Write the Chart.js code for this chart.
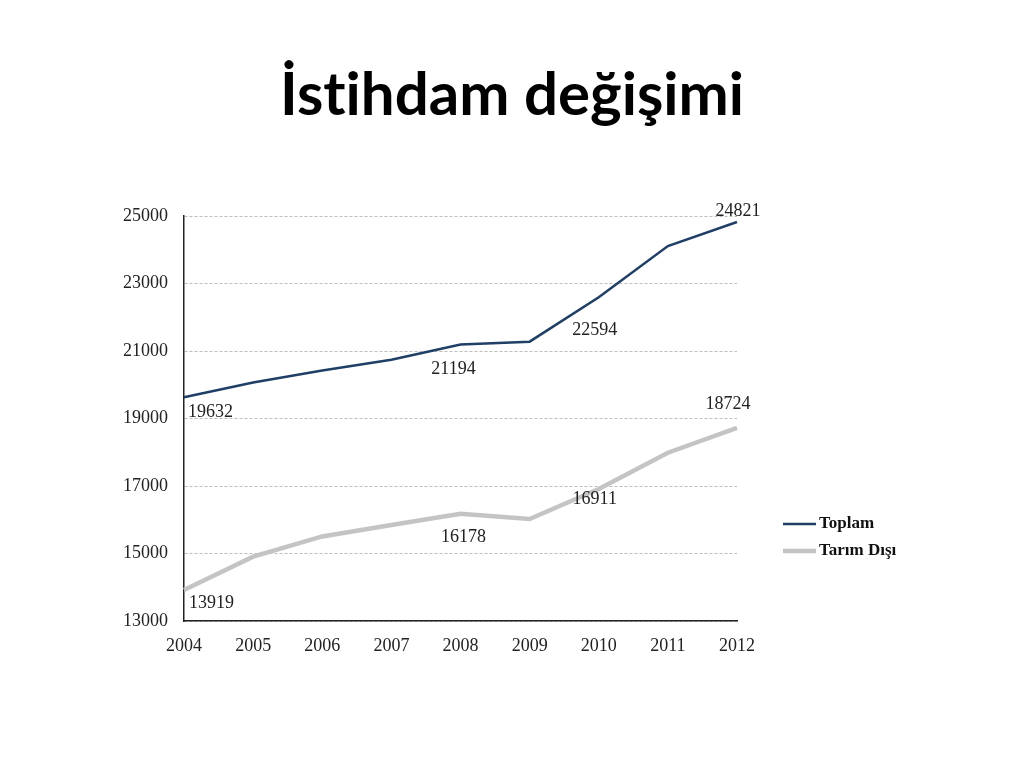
<!DOCTYPE html>
<html lang="tr">
<head>
<meta charset="utf-8">
<title>İstihdam değişimi</title>
<script src="https://cdn.jsdelivr.net/npm/chart.js@4"></script>
<style>
    html, body { margin: 0; padding: 0; background: #fff; }
    #page { position: relative; width: 1024px; height: 768px; overflow: hidden; }
    #title {
        position: absolute; left: 0; top: 62px; width: 1024px;
        text-align: center; font-family: Lato, "Open Sans", sans-serif;
        font-weight: bold; font-size: 60px; color: #000; line-height: 1;
        font-variant-ligatures: none;
    }
    #chartBox { position: absolute; left: 0; top: 0; width: 1024px; height: 768px; }
</style>
</head>
<body>
<div id="page">
    <div id="title">İstihdam değişimi</div>
    <div id="chartBox"><canvas id="chart"></canvas></div>
</div>
<script>
// --- Данные ---
const years = ['2004', '2005', '2006', '2007', '2008', '2009', '2010', '2011', '2012'];
const toplam = [19632, 20067, 20423, 20738, 21194, 21277, 22594, 24110, 24821];
const tarimDisi = [13919, 14906, 15505, 15847, 16178, 16023, 16911, 17985, 18724];
const seriesNames = ['Toplam', 'Tarım Dışı'];
const yTicks = [13000, 15000, 17000, 19000, 21000, 23000, 25000];
// indices of points that carry a value label
const labelledPoints = [0, 4, 6, 8];

const serif = '"Liberation Serif", "DejaVu Serif", serif';

// label placement per series and point: [dx, dy, align]
const labelOffsets = [
    { 0: [4, 15, 'left'], 4: [-7, 25, 'center'], 6: [-4, 33, 'center'], 8: [1, -11, 'center'] },
    { 0: [5, 13, 'left'], 4: [3, 24, 'center'], 6: [-4, 10, 'center'], 8: [-9, -24, 'center'] }
];

const valueLabels = {
    id: 'valueLabels',
    afterDatasetsDraw(chart) {
        const ctx = chart.ctx;
        ctx.save();
        ctx.font = '18px ' + serif;
        ctx.fillStyle = '#222';
        ctx.textBaseline = 'middle';
        chart.data.datasets.forEach((ds, di) => {
            const meta = chart.getDatasetMeta(di);
            labelledPoints.forEach(i => {
                const pt = meta.data[i];
                const [dx, dy, align] = labelOffsets[di][i];
                ctx.textAlign = align;
                ctx.fillText(String(ds.data[i]), pt.x + dx, pt.y + dy);
            });
        });
        ctx.restore();
    }
};

const sideLegend = {
    id: 'sideLegend',
    afterDraw(chart) {
        const ctx = chart.ctx;
        const x = chart.chartArea.right + 46;
        let y = 524;
        ctx.save();
        ctx.font = 'bold 17px ' + serif;
        ctx.textBaseline = 'middle';
        ctx.textAlign = 'left';
        chart.data.datasets.forEach(ds => {
            ctx.strokeStyle = ds.borderColor;
            ctx.lineWidth = ds.borderWidth;
            ctx.beginPath();
            ctx.moveTo(x, y);
            ctx.lineTo(x + 33, y);
            ctx.stroke();
            ctx.fillStyle = '#111';
            ctx.fillText(ds.label, x + 36, y);
            y += 27;
        });
        ctx.restore();
    }
};

new Chart(document.getElementById('chart'), {
    type: 'line',
    data: {
        labels: years,
        datasets: [
            { label: seriesNames[0], data: toplam, borderColor: '#1f3f66', borderWidth: 2.5, pointRadius: 0, tension: 0 },
            { label: seriesNames[1], data: tarimDisi, borderColor: '#c4c4c4', borderWidth: 4.5, pointRadius: 0, tension: 0 }
        ]
    },
    options: {
        responsive: true,
        maintainAspectRatio: false,
        animation: false,
        layout: { padding: { left: 100, right: 287, top: 216, bottom: 107 } },
        plugins: { legend: { display: false }, tooltip: { enabled: false } },
        scales: {
            x: {
                grid: { display: false },
                border: { display: true, color: '#222', width: 1.5 },
                ticks: { color: '#222', font: { family: serif, size: 18 }, padding: 6, maxRotation: 0 },
                afterFit(scale) { scale.height = 40; }
            },
            y: {
                min: 13000,
                max: 25000,
                afterBuildTicks(scale) { scale.ticks = yTicks.map(v => ({ value: v })); },
                grid: { color: '#bdbdbd', lineWidth: 1, drawTicks: false },
                border: { display: true, color: '#222', width: 1.5, dash: [3, 2] },
                ticks: { color: '#222', font: { family: serif, size: 18 }, padding: 16, callback: v => String(v) },
                afterFit(scale) { scale.width = 84; }
            }
        }
    },
    plugins: [valueLabels, sideLegend]
});
</script>
</body>
</html>
